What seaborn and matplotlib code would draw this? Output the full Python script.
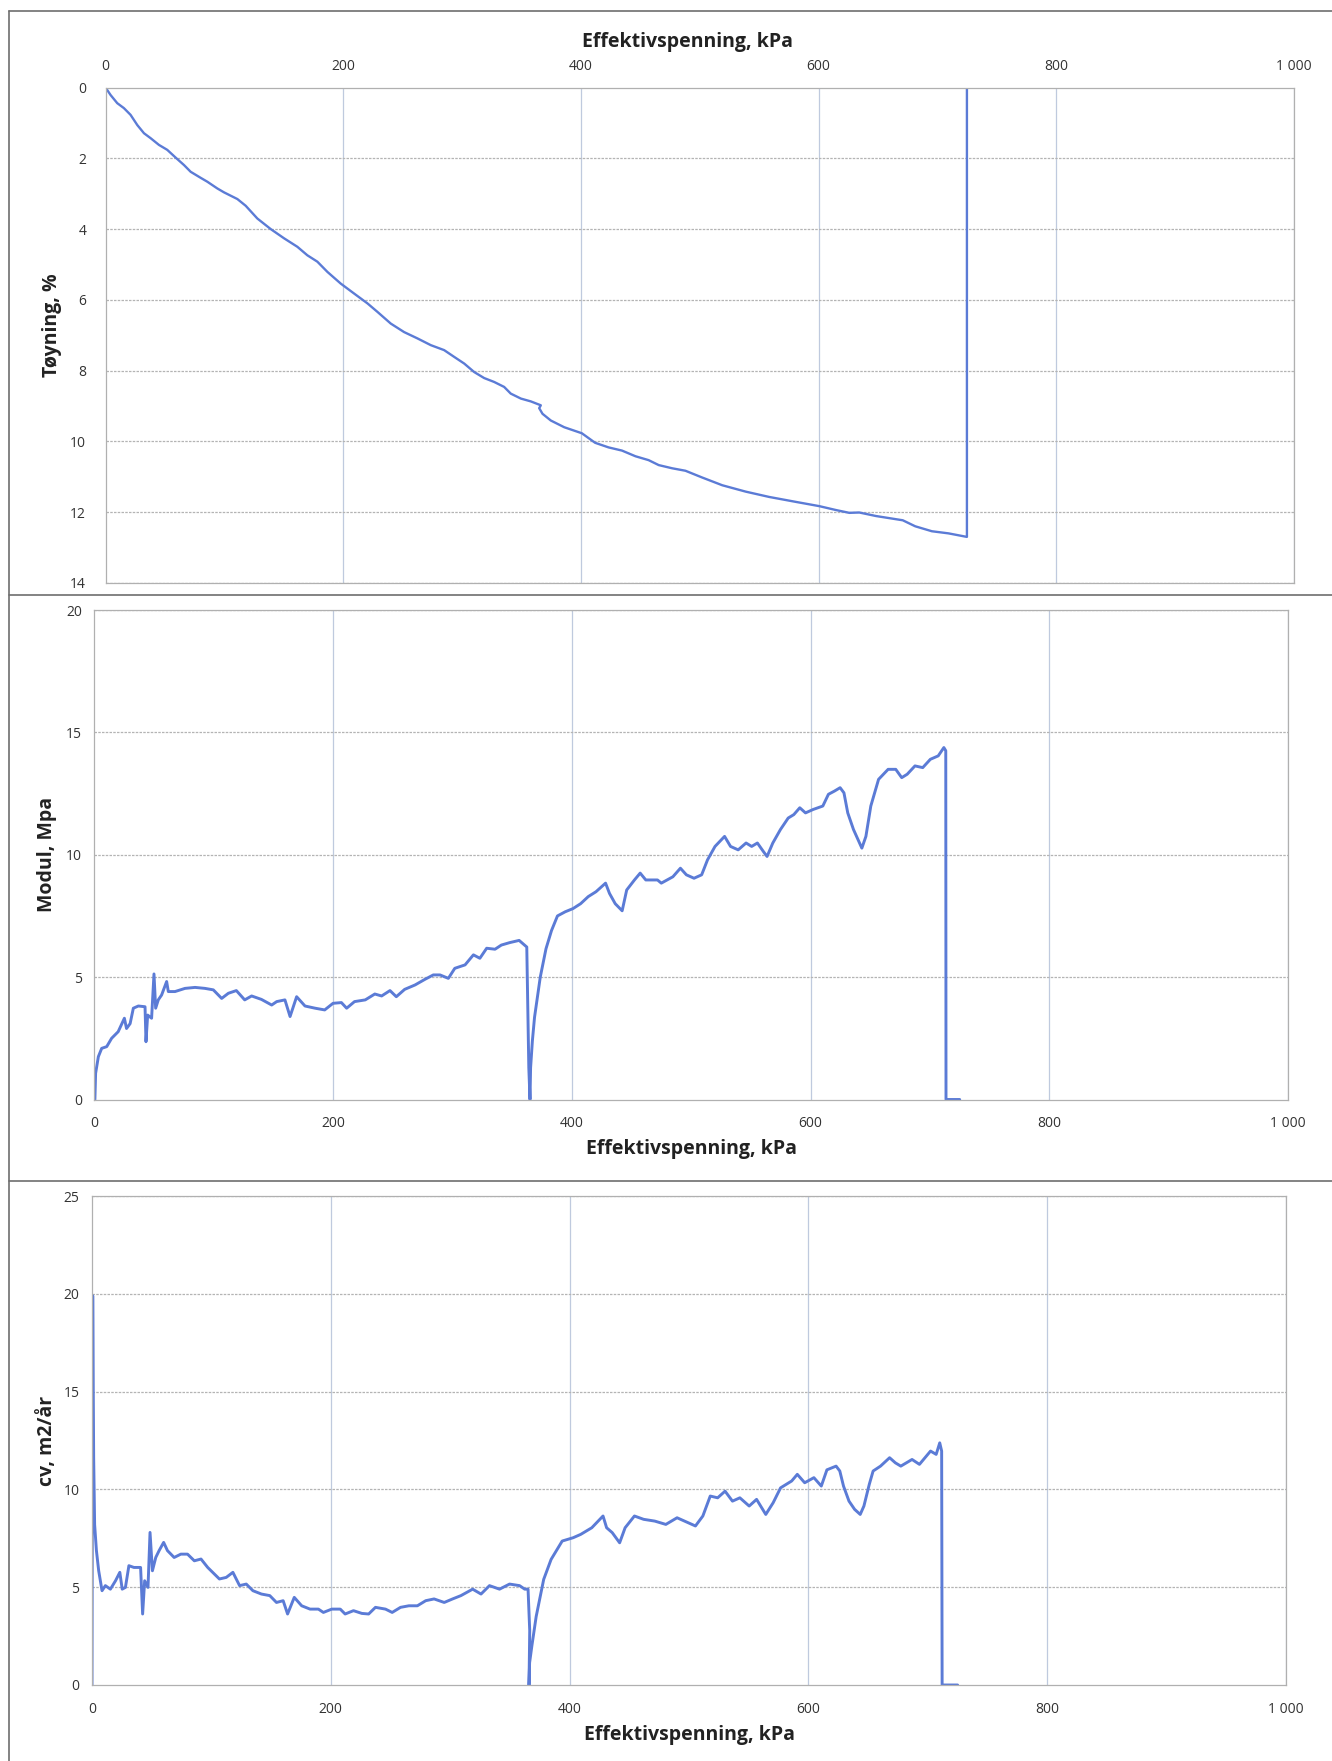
import matplotlib
matplotlib.use("Agg")
import matplotlib.pyplot as plt
from matplotlib.lines import Line2D
from matplotlib.ticker import FuncFormatter
import seaborn as sns
import pandas as pd

# ---------------- data ----------------
stress_strain = [0, 4.2, 9.8, 15.4, 21, 26.7, 32.3, 37.9, 44.9, 51.9, 59, 66, 71.6, 80, 85.6, 94,
                 99.6, 110.9, 117.9, 127.7, 139, 150.2, 161.4, 169.8, 178.2, 186.7, 197.9, 209.1,
                 220.4, 228.8, 240, 251.2, 262.5, 273.7, 284.9, 293.3, 301.8, 310.2, 318.6, 327,
                 335.4, 341, 349.5, 357.9, 366.3, 364.9, 367.7, 374.7, 386, 400.8, 412, 423.3,
                 434.6, 445.9, 457, 465.5, 476.8, 488, 502, 519, 538.7, 558.4, 580.9, 600.6,
                 614.6, 625.9, 634.3, 648.4, 670.9, 681.4, 695.4, 709.4, 724.9, 724.9]
strain = [0, 0.21, 0.44, 0.58, 0.77, 1.06, 1.29, 1.43, 1.62, 1.76, 1.98, 2.19, 2.38, 2.55, 2.66,
          2.85, 2.96, 3.15, 3.34, 3.70, 4.0, 4.26, 4.5, 4.74, 4.92, 5.21, 5.54, 5.82, 6.10, 6.34,
          6.67, 6.91, 7.09, 7.28, 7.42, 7.61, 7.8, 8.04, 8.21, 8.32, 8.46, 8.65, 8.79, 8.87, 8.98,
          9.06, 9.22, 9.41, 9.6, 9.77, 10.04, 10.17, 10.26, 10.42, 10.53, 10.67, 10.76, 10.83,
          11.02, 11.24, 11.42, 11.57, 11.71, 11.83, 11.94, 12.02, 12.01, 12.11, 12.23, 12.4,
          12.54, 12.6, 12.7, 0]

stress_modul = [0.5, 1.1, 3.4, 6.2, 10.4, 14.5, 20, 25.2, 27, 30, 32.7, 36.9, 42.5, 43.3, 44.7, 48,
                50, 51.4, 53.6, 56.4, 60.6, 62, 67.6, 76, 84.4, 92.7, 99.7, 106.7, 112.3, 119, 126,
                131.8, 140, 148.6, 152.8, 159.7, 164, 169.5, 176.5, 185, 193, 200, 207, 211.4, 218,
                227, 235, 240.7, 247.7, 253, 260, 268.7, 277, 284, 289.6, 296.6, 302, 310.6, 317.6,
                323, 328.7, 335.7, 341, 348, 355.9, 362.3, 364, 365, 365.5, 367, 368.8, 373.6,
                378.4, 383, 388, 394.5, 401, 407.4, 413.8, 420.3, 428.3, 431.6, 436.4, 442.2, 446,
                452.5, 457.3, 462, 471.8, 475, 484.7, 491, 496, 502.4, 508.8, 513.7, 520, 528, 533,
                539.4, 546, 550.7, 555.5, 560.4, 563.6, 568.4, 574.8, 581.3, 586, 591, 595.8,
                602.2, 610.3, 615, 620, 624.8, 628, 631.2, 636, 643, 646.4, 650.5, 657, 665, 671.4,
                676.4, 681, 687.5, 694, 700.4, 707, 711.7, 713.3, 713.5, 725]
modul = [0.0, 1.07, 1.75, 2.09, 2.16, 2.5, 2.77, 3.32, 2.9, 3.1, 3.73, 3.82, 3.79, 2.36, 3.45, 3.32,
         5.13, 3.73, 4.07, 4.27, 4.82, 4.41, 4.41, 4.54, 4.58, 4.54, 4.48, 4.13, 4.34, 4.45, 4.07,
         4.23, 4.09, 3.86, 4.0, 4.07, 3.39, 4.2, 3.82, 3.73, 3.66, 3.93, 3.96, 3.73, 4.0, 4.07,
         4.31, 4.23, 4.45, 4.2, 4.5, 4.68, 4.91, 5.09, 5.09, 4.95, 5.36, 5.5, 5.91, 5.77, 6.18,
         6.14, 6.31, 6.41, 6.5, 6.23, 1.3, 0.0, 1.3, 2.4, 3.36, 5.0, 6.16, 6.9, 7.5, 7.67, 7.8,
         8.0, 8.29, 8.49, 8.84, 8.42, 8.0, 7.71, 8.56, 8.97, 9.25, 8.97, 8.97, 8.84, 9.1, 9.45,
         9.18, 9.04, 9.18, 9.79, 10.34, 10.75, 10.34, 10.2, 10.48, 10.34, 10.48, 10.14, 9.93,
         10.48, 11.03, 11.5, 11.64, 11.92, 11.71, 11.85, 11.99, 12.47, 12.6, 12.74, 12.53, 11.71,
         11.03, 10.27, 10.75, 11.99, 13.08, 13.49, 13.49, 13.15, 13.29, 13.63, 13.56, 13.9, 14.04,
         14.38, 14.25, 0.0, 0.0]

stress_cv = [0, 0.6, 1.4, 2.2, 3.7, 5.6, 8.4, 11.2, 15.4, 19.7, 23.3, 25.3, 28, 30.9, 35.1, 40.7,
             42.4, 44.1, 46.9, 48.6, 50.6, 53.4, 56.2, 60, 63.2, 68.8, 74.4, 80, 85.7, 91.3, 96.9,
             102.5, 106.7, 112.4, 118, 123.6, 129.2, 134.8, 141.9, 148.9, 154.5, 160.1, 163.8,
             169.4, 175.6, 182.6, 189.6, 193.8, 200.8, 207.9, 212, 219, 226, 231.7, 237.4, 245.8,
             251.4, 258.4, 265.4, 272.5, 279.5, 286.5, 295, 302, 309, 318.8, 325.8, 332.9, 341.3,
             349.7, 358.1, 362.4, 365.2, 366.6, 366, 366.5, 368.4, 372, 378.3, 384.5, 393.8, 403,
             409.3, 418.6, 428, 431, 435.7, 441.9, 446.5, 454.3, 462, 471.3, 480.6, 490, 499.2,
             505.4, 511.6, 517.8, 524, 530.2, 536.4, 542.6, 550.4, 556.6, 564.3, 570.5, 576.7,
             586, 590.7, 596.9, 604.6, 610.8, 615.5, 623.2, 626.3, 629.4, 634, 638.7, 643.4,
             646.5, 651, 654.2, 660.4, 668, 672.8, 677.4, 686.8, 693, 697.6, 702.3, 707, 710,
             711.6, 712, 725]
cv = [0, 19.9, 11.6, 8.2, 6.87, 5.84, 4.82, 5.08, 4.9, 5.33, 5.76, 4.9, 4.99, 6.1, 6.01, 6.01,
      3.63, 5.33, 4.99, 7.8, 5.84, 6.52, 6.87, 7.29, 6.87, 6.52, 6.69, 6.69, 6.35, 6.44, 6.01,
      5.67, 5.42, 5.5, 5.76, 5.08, 5.16, 4.82, 4.65, 4.57, 4.22, 4.31, 3.63, 4.48, 4.05, 3.88,
      3.88, 3.71, 3.88, 3.88, 3.63, 3.8, 3.66, 3.63, 3.97, 3.88, 3.71, 3.97, 4.05, 4.05, 4.31,
      4.4, 4.22, 4.4, 4.57, 4.9, 4.65, 5.08, 4.9, 5.16, 5.08, 4.9, 4.9, 2.78, 0.0, 1.14, 2.0,
      3.5, 5.4, 6.42, 7.36, 7.53, 7.7, 8.04, 8.64, 8.04, 7.79, 7.27, 8.04, 8.64, 8.47, 8.38,
      8.21, 8.55, 8.3, 8.13, 8.64, 9.66, 9.57, 9.91, 9.4, 9.57, 9.15, 9.49, 8.72, 9.32, 10.08,
      10.43, 10.77, 10.34, 10.6, 10.17, 11.0, 11.19, 10.94, 10.17, 9.4, 8.98, 8.72, 9.15, 10.26,
      10.94, 11.19, 11.62, 11.36, 11.19, 11.53, 11.28, 11.62, 11.96, 11.79, 12.38, 11.96, 0.0,
      0.0]

x_ticks = [0, 200, 400, 600, 800, 1000]
xlabel = "Effektivspenning, kPa"

# ---------------- style ----------------
sns.set_theme(style="white")
plt.rcParams['font.family'] = ['Open Sans', 'DejaVu Sans']

W, H = 1332, 1761
fig = plt.figure(figsize=(W / 100, H / 100), dpi=100)
LINE = "#5b7bd6"
HGRID = "#b4b4b4"
VGRID = "#bfcade"


def place(left, right, top, bottom):
    return [left / W, 1 - bottom / H, (right - left) / W, (bottom - top) / H]


thousands = FuncFormatter(lambda v, p: f"{int(v):,}".replace(",", " "))


def style(ax, ymax, ystep):
    ax.set_xlim(0, 1000)
    ax.set_xticks(x_ticks)
    ax.xaxis.set_major_formatter(thousands)
    ax.set_yticks(list(range(0, ymax + 1, ystep)))
    for t in x_ticks[1:]:
        ax.axvline(t, color=VGRID, lw=0.9, zorder=0)
    for t in range(ystep, ymax + 1, ystep):
        ax.axhline(t, color=HGRID, lw=0.9, ls=(0, (2, 1)), zorder=0)
    for s in ax.spines.values():
        s.set_color("#b0b0b0")
        s.set_linewidth(0.9)
    ax.tick_params(axis="both", length=0, labelsize=10, colors="#333333")


# Panel 1: strain
ax1 = fig.add_axes(place(105.6, 1293.8, 87.6, 582.9))
df1 = pd.DataFrame({"x": stress_strain, "y": strain})
sns.lineplot(data=df1, x="x", y="y", sort=False, estimator=None, ax=ax1, color=LINE, lw=1.7)
style(ax1, 14, 2)
ax1.set_ylim(14, 0)
ax1.xaxis.tick_top()
ax1.xaxis.set_label_position("top")
ax1.tick_params(axis="x", pad=10)
ax1.tick_params(axis="y", pad=14)
ax1.set_xlabel(xlabel, fontsize=14, fontweight="bold", color="#222222")
ax1.xaxis.set_label_coords(0.49, 1.093)
ax1.xaxis.label.set_va("center")
ax1.set_ylabel("Tøyning, %", fontsize=14, fontweight="bold", color="#222222")
ax1.yaxis.set_label_coords(-0.045, 0.52)
ax1.yaxis.label.set_va("center")

# Panel 2: modul
ax2 = fig.add_axes(place(94.3, 1288, 610, 1099.5))
df2 = pd.DataFrame({"x": stress_modul, "y": modul})
sns.lineplot(data=df2, x="x", y="y", sort=False, estimator=None, ax=ax2, color=LINE, lw=2.1)
style(ax2, 20, 5)
ax2.set_ylim(0, 20)
ax2.tick_params(axis="x", pad=12)
ax2.tick_params(axis="y", pad=9)
ax2.set_xlabel(xlabel, fontsize=14, fontweight="bold", color="#222222")
ax2.xaxis.set_label_coords(0.5, -0.101)
ax2.xaxis.label.set_va("center")
ax2.set_ylabel("Modul, Mpa", fontsize=14, fontweight="bold", color="#222222")
ax2.yaxis.set_label_coords(-0.0396, 0.5)
ax2.yaxis.label.set_va("center")

# Panel 3: cv
ax3 = fig.add_axes(place(92, 1286, 1196, 1685))
df3 = pd.DataFrame({"x": stress_cv, "y": cv})
sns.lineplot(data=df3, x="x", y="y", sort=False, estimator=None, ax=ax3, color=LINE, lw=2.1)
style(ax3, 25, 5)
ax3.set_ylim(0, 25)
ax3.tick_params(axis="x", pad=12)
ax3.tick_params(axis="y", pad=9)
ax3.set_xlabel(xlabel, fontsize=14, fontweight="bold", color="#222222")
ax3.xaxis.set_label_coords(0.5, -0.102)
ax3.xaxis.label.set_va("center")
ax3.set_ylabel("cv, m2/år", fontsize=14, fontweight="bold", color="#222222")
ax3.yaxis.set_label_coords(-0.0377, 0.5)
ax3.yaxis.label.set_va("center")

# page frame lines of the scanned sheet
frame = "#6e6e6e"
fig.add_artist(Line2D([9 / W, 9 / W], [0, 1 - 11 / H], color=frame, lw=1.2))
for yy in (11, 595, 1181):
    fig.add_artist(Line2D([9 / W, 1], [1 - yy / H, 1 - yy / H], color=frame, lw=1.2))

fig.savefig("out.png", dpi=100, facecolor="white")
